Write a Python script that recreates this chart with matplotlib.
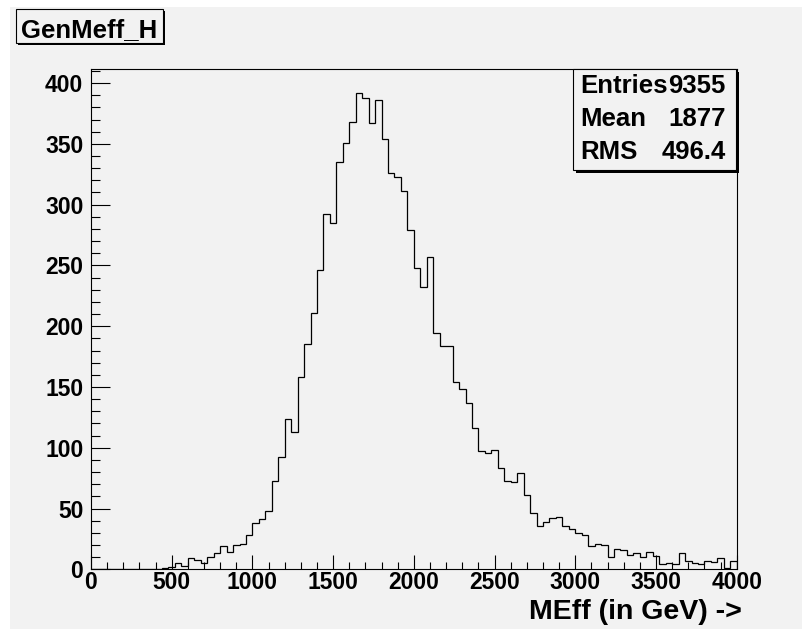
import matplotlib
matplotlib.use("Agg")
import matplotlib.pyplot as plt
import numpy as np
from matplotlib.patches import Rectangle
from matplotlib.ticker import MultipleLocator

W, H = 803, 629
BG = "#f2f2f2"

plt.rcParams["font.family"] = ["Liberation Sans", "DejaVu Sans"]
plt.rcParams["font.weight"] = "bold"

# GenMeff_H: 100 bins of 40 GeV on [0, 4000]
x_min, x_max, n_bins = 0.0, 4000.0, 100
counts = [
    0, 0, 0, 0, 0, 0, 0, 0, 0, 0,
    0, 1, 2, 5, 3, 9, 8, 5, 10, 13,
    19, 14, 20, 21, 28, 38, 41, 48, 73, 92,
    124, 113, 158, 185, 211, 246, 292, 285, 335, 351,
    368, 392, 388, 367, 386, 354, 326, 323, 311, 279,
    248, 232, 257, 194, 184, 184, 154, 148, 137, 116,
    97, 96, 98, 83, 73, 72, 79, 61, 46, 36,
    39, 42, 43, 36, 33, 30, 28, 19, 21, 20,
    10, 17, 16, 12, 13, 10, 14, 11, 4, 5,
    4, 13, 7, 5, 4, 7, 6, 9, 1, 7,
]
stats_labels = ["Entries", "Mean", "RMS"]
stats_values = ["9355", "1877", "496.4"]
hist_title = "GenMeff_H"
x_title = "MEff (in GeV) ->"


def fx(x):
    return x / W


def fy(y):
    return 1 - y / H


def px_box(fig, x0, y0, x1, y1, **kw):
    # rectangle given in canvas pixels (origin top-left)
    r = Rectangle((fx(x0), fy(y1)), (x1 - x0) / W, (y1 - y0) / H,
                  transform=fig.transFigure, **kw)
    fig.add_artist(r)
    return r


fig = plt.figure(figsize=(W / 100, H / 100), dpi=100, facecolor="white")

# canvas pad
px_box(fig, 10, 7, W + 2, 629, facecolor=BG, edgecolor="none", zorder=-5)

ax = fig.add_axes([fx(91), fy(569.3), (736.7 - 91) / W, (569.3 - 69) / H])
ax.set_facecolor(BG)

edges = np.linspace(x_min, x_max, n_bins + 1)
ax.stairs(counts, edges, baseline=0, color="black", lw=0.9)

ax.set_xlim(x_min, x_max)
ax.set_ylim(0, 1.05 * max(counts))

ax.xaxis.set_major_locator(MultipleLocator(500))
ax.xaxis.set_minor_locator(MultipleLocator(100))
ax.yaxis.set_major_locator(MultipleLocator(50))
ax.yaxis.set_minor_locator(MultipleLocator(10))

ax.tick_params(which="both", direction="in", top=False, right=False,
               width=0.8, color="black", labelsize=16.5)
ax.tick_params(axis="x", which="major", length=10, pad=1.5)
ax.tick_params(axis="x", which="minor", length=5)
ax.tick_params(axis="y", which="major", length=13.5, pad=5.5)
ax.tick_params(axis="y", which="minor", length=6.5)
for lab in ax.get_xticklabels() + ax.get_yticklabels():
    lab.set_fontweight("bold")
for sp in ax.spines.values():
    sp.set_linewidth(0.8)
    sp.set_color("black")

# axis title, right-aligned under the frame
fig.text(fx(741.5), fy(619.3), x_title, ha="right", va="baseline",
         fontsize=20.5, fontweight="bold")

# histogram title box with shadow
px_box(fig, 18, 11.3, 165, 45.3, facecolor="black", edgecolor="none", zorder=4)
px_box(fig, 16, 9.3, 163, 43.3, facecolor=BG, edgecolor="black", lw=0.8, zorder=5)
fig.text(fx(21), fy(37.3), hist_title, ha="left", va="baseline",
         fontsize=18.5, fontweight="bold", zorder=6)

# statistics box with shadow
px_box(fig, 575.7, 72, 738.7, 173, facecolor="black", edgecolor="none", zorder=4)
px_box(fig, 572.7, 69, 735.7, 170, facecolor=BG, edgecolor="black", lw=0.8, zorder=5)
for i, (name, val) in enumerate(zip(stats_labels, stats_values)):
    base = 93.3 + i * 33
    fig.text(fx(580.2), fy(base), name, ha="left", va="baseline",
             fontsize=18.5, fontweight="bold", zorder=6)
    fig.text(fx(726), fy(base), val, ha="right", va="baseline",
             fontsize=18.5, fontweight="bold", zorder=6)

fig.savefig("out.png", dpi=100, facecolor=fig.get_facecolor())
